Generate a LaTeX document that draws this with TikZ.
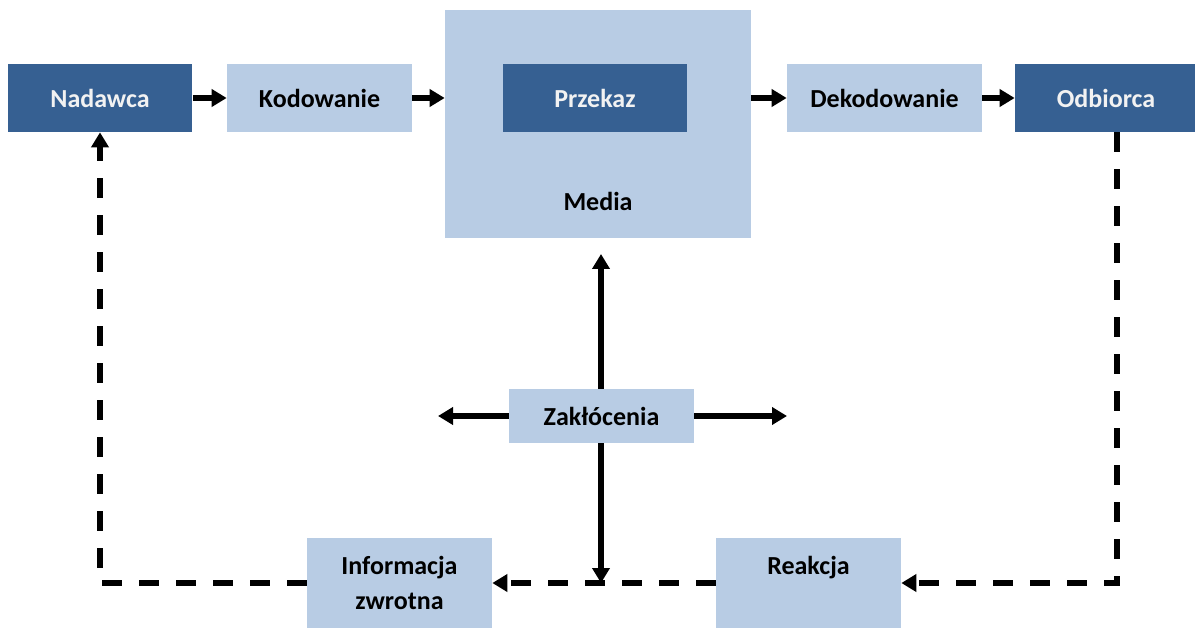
\documentclass[tikz,border=0pt]{standalone}
\usepackage{fontspec}
\setmainfont{Carlito}
\usetikzlibrary{arrows.meta,positioning}
\definecolor{darkblue}{RGB}{54,96,146}
\definecolor{lightblue}{RGB}{184,204,228}

\begin{document}
\begin{tikzpicture}[x=0.02cm,y=-0.02cm,
    dkbox/.style={fill=darkblue,text=white!95!black,font=\bfseries\fontsize{14.8}{19.4}\selectfont,
      minimum width=3.7cm,minimum height=1.36cm,inner sep=0pt},
    ltbox/.style={dkbox,fill=lightblue,text=black},
    flow/.style={line width=3pt,-{Triangle[length=0.3cm,width=0.34cm]}},
    back/.style={flow,dash pattern=on 0.4cm off 0.34cm}]
    \useasboundingbox (0,0) rectangle (1195,628);
    % top row
    \node[dkbox] (nad) at (100,98) {Nadawca};
    \node[ltbox] (kod) at (319.5,98) {Kodowanie};
    \node[ltbox,minimum width=6.12cm,minimum height=4.56cm] (med) at (598,124) {};
    \node[dkbox] (prz) at (595,98) {Przekaz};
    \node[font=\bfseries\fontsize{14.8}{19.4}\selectfont] (medtxt) at (598,201) {Media};
    \node[ltbox,minimum width=3.9cm] (dek) at (884.5,98) {Dekodowanie};
    \node[dkbox,minimum width=3.64cm] (odb) at (1106,98) {Odbiorca};
    % noise and feedback
    \node[ltbox,minimum height=1.08cm] (zak) at (601.5,416) {Zakłócenia};
    \node[ltbox,minimum height=1.8cm,align=center] (inf) at (399.5,583) {Informacja\\zwrotna};
    \node[ltbox,text height=0.72cm,text depth=1.08cm] (rea) at (808.5,583) {Reakcja};
    \coordinate (zup) at (601,254);
    \coordinate (zdn) at (601,583);
    \coordinate (zle) at (438,416);
    \coordinate (zri) at (787,416);

    \draw[flow] (nad) -- (kod);
    \draw[flow] (kod.east) -- (med.west |- kod);
    \draw[flow] (med.east |- dek) -- (dek.west);
    \draw[flow] (dek) -- (odb);
    \draw[flow] (zak.north -| zup) -- (zup);
    \draw[flow] (zak.south -| zdn) -- (zdn);
    \draw[flow] (zak.west) -- (zle);
    \draw[flow] (zak.east) -- (zri);
    \draw[back] ([xshift=0.22cm]odb.south) |- (rea.east);
    \draw[back] (rea.west) -- (inf.east);
    \draw[back] (inf.west) -| (nad.south);
\end{tikzpicture}
\end{document}
